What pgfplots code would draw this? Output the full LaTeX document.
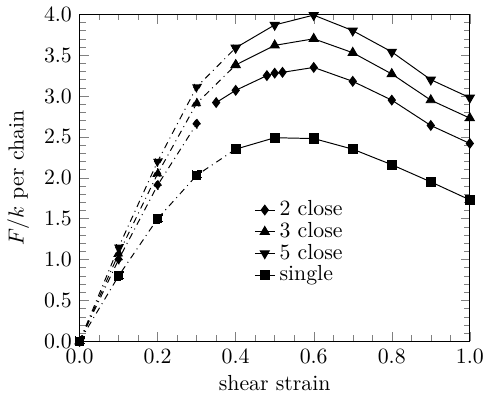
\documentclass[border=0pt]{standalone}
\usepackage{pgfplots}
\pgfplotsset{compat=1.18}

\begin{document}
\begin{tikzpicture}
\begin{axis}[
    scale only axis,
    width=179pt, height=150pt,
    xmin=0, xmax=1.0, ymin=0, ymax=4.0,
    xtick={0,0.2,...,1.0},
    ytick={0,0.5,...,4.0},
    minor x tick num=3,
    minor y tick num=4,
    tick align=inside,
    xticklabel style={/pgf/number format/.cd,fixed,fixed zerofill,precision=1},
    yticklabel style={/pgf/number format/.cd,fixed,fixed zerofill,precision=1},
    xlabel={shear strain},
    ylabel={$F/k$ per chain},
    xlabel style={yshift=1pt},
    ylabel style={yshift=0pt},
    legend cell align=left,
    legend style={draw=none, fill=none, at={(axis cs:0.43,1.83)}, anchor=north west,
        row sep=-2.5pt, font=\normalsize},
    legend image code/.code={\draw[mark repeat=2,mark phase=2] plot coordinates {(0cm,0cm) (0.16cm,0cm) (0.32cm,0cm)};},
    every axis plot/.append style={black, line width=0.45pt},
]
% dash-dot start of each series
\addplot[dash dot, mark=diamond*, mark size=2.2pt, forget plot] coordinates {
    (0,0) (0.1,1.0) (0.2,1.91) (0.3,2.66)};
\addplot[dash dot, mark=triangle*, mark size=2.4pt, forget plot] coordinates {
    (0,0) (0.1,1.07) (0.2,2.05) (0.3,2.91) (0.4,3.38)};
\addplot[dash dot, mark=triangle*, mark options={rotate=180}, mark size=2.4pt, forget plot] coordinates {
    (0,0) (0.1,1.15) (0.2,2.2) (0.3,3.11) (0.4,3.59)};
\addplot[dash dot, mark=square*, mark size=2.1pt, forget plot] coordinates {
    (0,0) (0.1,0.8) (0.2,1.5) (0.3,2.03) (0.4,2.35)};
% solid part
\addplot[mark=diamond*, mark size=2.2pt] coordinates {
    (0.35,2.92) (0.4,3.07) (0.48,3.25) (0.5,3.28) (0.52,3.29) (0.6,3.35)
    (0.7,3.18) (0.8,2.95) (0.9,2.64) (1.0,2.42)};
\addlegendentry{2 close}
\addplot[mark=triangle*, mark size=2.4pt] coordinates {
    (0.4,3.38) (0.5,3.62) (0.6,3.70) (0.7,3.53) (0.8,3.27) (0.9,2.95) (1.0,2.73)};
\addlegendentry{3 close}
\addplot[mark=triangle*, mark options={rotate=180}, mark size=2.4pt] coordinates {
    (0.4,3.59) (0.5,3.87) (0.6,3.99) (0.7,3.80) (0.8,3.54) (0.9,3.20) (1.0,2.98)};
\addlegendentry{5 close}
\addplot[mark=square*, mark size=2.1pt] coordinates {
    (0.4,2.35) (0.5,2.49) (0.6,2.48) (0.7,2.35) (0.8,2.16) (0.9,1.95) (1.0,1.73)};
\addlegendentry{single}
\end{axis}
\end{tikzpicture}
\end{document}
